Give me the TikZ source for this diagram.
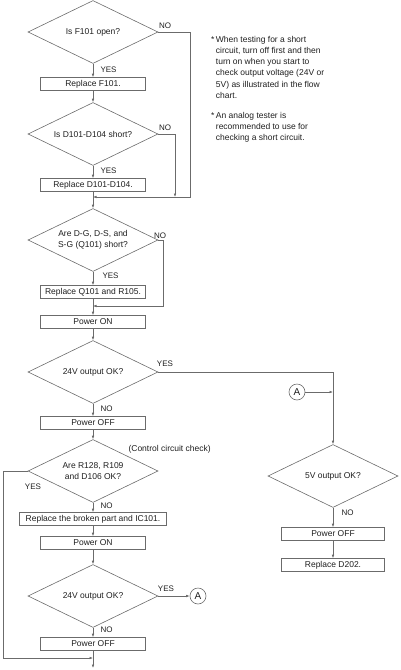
\documentclass[tikz,border=0pt]{standalone}
\usepackage{fontspec}
\setmainfont{Liberation Sans}
\usetikzlibrary{shapes.geometric,arrows.meta}
\definecolor{flowline}{gray}{0.42}
\definecolor{flowtext}{gray}{0.12}

\begin{document}
\begin{tikzpicture}[x=1pt, y=-1pt,
    every node/.style={font=\fontsize{8.5}{11.2}\selectfont, text=flowtext},
    decision/.style={draw=flowline, line width=0.6pt, diamond, aspect=2, inner sep=0pt, minimum width=130pt, minimum height=63pt, align=center},
    process/.style={draw=flowline, line width=0.6pt, rectangle, inner sep=0pt, minimum width=105pt, minimum height=13pt},
    connector/.style={draw=flowline, line width=0.6pt, circle, inner sep=0pt, minimum size=16pt, font=\fontsize{10}{12}\selectfont},
    flow/.style={draw=flowline, line width=0.6pt, -{Latex[length=3.5pt,width=2.6pt]}},
    tag/.style={font=\fontsize{8}{10}\selectfont},
    note/.style={align=left, inner sep=0pt, anchor=north west}]
    \useasboundingbox (0,0) rectangle (400,670);

    % Fuse and diodes
    \node[decision] (d1) at (93,32) {Is F101 open?};
    \node[process] (b1) at (93,84) {Replace F101.};
    \node[decision] (d2) at (93,134) {Is D101-D104 short?};
    \node[process] (b2) at (93,185) {Replace D101-D104.};
    \coordinate (m1) at (93,197);
    \coordinate (r1) at (190,197);
    \coordinate (r2) at (175,197);

    % Switching transistor
    \node[decision] (d3) at (93,240) {Are D-G, D-S, and\\S-G (Q101) short?};
    \node[process] (b3) at (93,292) {Replace Q101 and R105.};
    \coordinate (m2) at (93,306);
    \coordinate (r3) at (163,306);
    \node[process] (b4) at (93,322) {Power ON};
    \node[decision] (d4) at (93,372) {24V output OK?};
    \node[process] (b5) at (93,423) {Power OFF};

    % Control circuit
    \node[decision] (d5) at (93,471) {Are R128, R109\\and D106 OK?};
    \node[process, minimum width=147pt] (b6) at (93,519) {Replace the broken part and IC101.};
    \node[process] (b7) at (93,543) {Power ON};
    \node[decision] (d6) at (93,596) {24V output OK?};
    \node[process] (b8) at (93,644) {Power OFF};
    \coordinate (m3) at (93,658);
    \coordinate (l1) at (3,658);
    \coordinate (fin) at (93,668);
    \node[connector] (A1) at (198,596) {A};

    % 5V side
    \node[connector] (A2) at (297,392) {A};
    \coordinate (j1) at (333,392);
    \node[decision] (d7) at (333,476) {5V output OK?};
    \node[process, minimum width=103pt] (b9) at (333,534) {Power OFF};
    \node[process, minimum width=103pt] (b10) at (333,565) {Replace D202.};

    % Labels
    \node[tag] (t1) at (165,26) {NO};
    \node[tag, anchor=west] (t2) at (97,70) {YES};
    \node[tag] (t3) at (165,128) {NO};
    \node[tag, anchor=west] (t4) at (97,171) {YES};
    \node[tag] (t5) at (160,236) {NO};
    \node[tag, anchor=west] (t6) at (99,276) {YES};
    \node[tag] (t7) at (165,364) {YES};
    \node[tag, anchor=west] (t8) at (97,409) {NO};
    \node[anchor=west] (t9) at (125,449) {(Control circuit check)};
    \node[tag] (t10) at (33,487) {YES};
    \node[tag, anchor=west] (t11) at (97,506) {NO};
    \node[tag] (t12) at (166,589) {YES};
    \node[tag, anchor=west] (t13) at (97,630) {NO};
    \node[tag, anchor=west] (t14) at (338,513) {NO};

    % Notes
    \node[note] (n1) at (211,36) {*\,When testing for a short\\
        \hphantom{*\,}circuit, turn off first and then\\
        \hphantom{*\,}turn on when you start to\\
        \hphantom{*\,}check output voltage (24V or\\
        \hphantom{*\,}5V) as illustrated in the flow\\
        \hphantom{*\,}chart.};
    \node[note] (n2) at (211,112) {*\,An analog tester is\\
        \hphantom{*\,}recommended to use for\\
        \hphantom{*\,}checking a short circuit.};

    % Flow
    \draw[flow] (d1.south) -- (b1.north);
    \draw[flow] (b1.south) -- (d2.north);
    \draw[flow] (d2.south) -- (b2.north);
    \draw[flow] (d1.east) -| (r1) -- (m1);
    \draw[flow] (d2.east) -| (r2);
    \draw[flow] (b2.south) -- (d3.north);
    \draw[flow] (d3.south) -- (b3.north);
    \draw[flow] (d3.east) -| (r3) -- (m2);
    \draw[flow] (b3.south) -- (b4.north);
    \draw[flow] (b4.south) -- (d4.north);
    \draw[flow] (d4.east) -| (d7.north);
    \draw[flow] (A2.east) -- (j1);
    \draw[flow] (d7.south) -- (b9.north);
    \draw[flow] (b9.south) -- (b10.north);
    \draw[flow] (d4.south) -- (b5.north);
    \draw[flow] (b5.south) -- (d5.north);
    \draw[flow] (d5.west) -| (l1) -- (m3);
    \draw[flow] (d5.south) -- (b6.north);
    \draw[flow] (b6.south) -- (b7.north);
    \draw[flow] (b7.south) -- (d6.north);
    \draw[flow] (d6.east) -- (A1.west);
    \draw[flow] (d6.south) -- (b8.north);
    \draw[flow] (b8.south) -- (fin);
\end{tikzpicture}
\end{document}
